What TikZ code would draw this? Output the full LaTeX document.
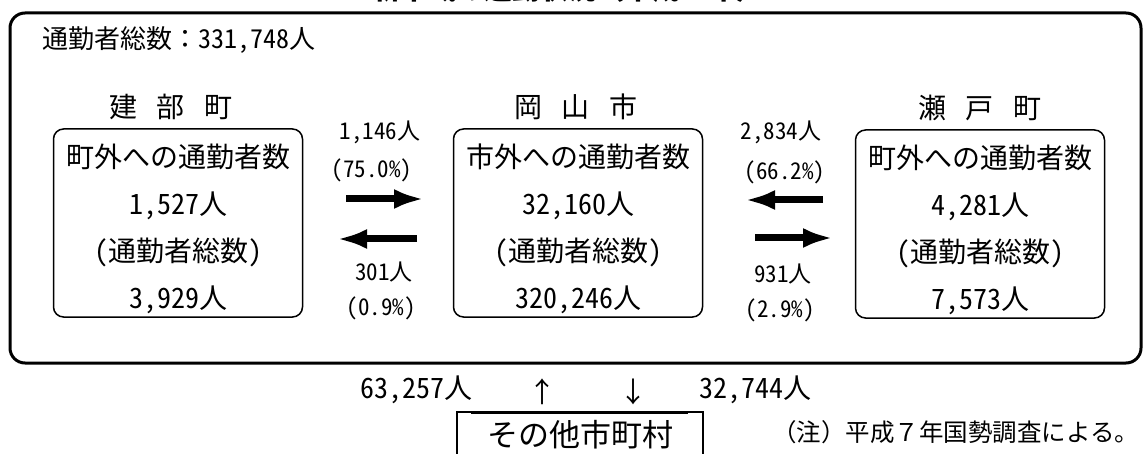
\documentclass[tikz,border=0pt]{standalone}
\usepackage{fontspec}
\setmainfont{Noto Sans CJK JP}[RawFeature=+hwid]
\newfontfamily\fw{Noto Sans CJK JP}
\usetikzlibrary{arrows.meta}

\begin{document}
\begin{tikzpicture}[x=1pt,y=-1pt,
	frame/.style={draw=black,line width=3pt,rounded corners=15pt},
	town/.style={rectangle,draw=black,line width=1.5pt,rounded corners=10pt,minimum width=249pt,minimum height=188pt,align=center,inner sep=0pt,font=\fontsize{28}{47}\selectfont},
	txt/.style={inner sep=0pt,font=\fontsize{28}{28}\selectfont},
	flowlabel/.style={inner sep=0pt,font=\fontsize{23}{23}\selectfont},
	flow/.style={line width=7pt,-{Latex[length=30pt,width=20pt]}}
]
	\useasboundingbox (0,0) rectangle (1145,454);

	\node[txt,anchor=base,font=\fw\bfseries\fontsize{28}{28}\selectfont] (title) at (568,0) {新市域の通勤状況（平成７年）};
	\draw[frame] (10,13) rectangle (1141,363);
	\node[txt,anchor=west,font=\fontsize{26}{26}\selectfont] (total) at (42,40) {{\fw 通勤者総数：}331,748人};

	\node[town] (tatebe) at (178,223) {\rule{0pt}{36pt}町外への通勤者数\\1,527人\\(通勤者総数)\\3,929人};
	\node[town] (okayama) at (578,223) {\rule{0pt}{36pt}市外への通勤者数\\32,160人\\(通勤者総数)\\320,246人};
	\node[town] (seto) at (980,224) {\rule{0pt}{36pt}町外への通勤者数\\4,281人\\(通勤者総数)\\7,573人};

	\node[txt] (tatebename) at (171,107) {建\hspace{.7em}部\hspace{.7em}町};
	\node[txt] (okayamaname) at (576,107) {岡\hspace{.7em}山\hspace{.7em}市};
	\node[txt] (setoname) at (980,108) {瀬\hspace{.7em}戸\hspace{.7em}町};

	% tatebe <-> okayama
	\node[flowlabel] (kt) at (380,132) {1,146人};
	\node[flowlabel] (ktp) at (372,170) {(75.0\%)};
	\node[flowlabel] (tk) at (384,272) {301人};
	\node[flowlabel] (tkp) at (381,308) {(0.9\%)};
	\coordinate (kt1) at (346,199);
	\coordinate (kt2) at (424,199);
	\coordinate (tk1) at (417,239);
	\coordinate (tk2) at (337,239);
	\draw[flow] (kt1) -- (kt2);
	\draw[flow] (tk1) -- (tk2);

	% seto <-> okayama
	\node[flowlabel] (st) at (781,132) {2,834人};
	\node[flowlabel] (stp) at (785,172) {(66.2\%)};
	\node[flowlabel] (ts) at (783,274) {931人};
	\node[flowlabel] (tsp) at (780,310) {(2.9\%)};
	\coordinate (st1) at (823,200);
	\coordinate (st2) at (745,200);
	\coordinate (ts1) at (755,238);
	\coordinate (ts2) at (833,238);
	\draw[flow] (st1) -- (st2);
	\draw[flow] (ts1) -- (ts2);

	% other municipalities
	\node[txt] (inflow) at (416,390) {63,257人};
	\node[txt] (up) at (542,392) {↑};
	\node[txt] (down) at (633,392) {↓};
	\node[txt] (outflow) at (755,390) {32,744人};
	\draw[line width=1.5pt] (457,412) rectangle (703,480);
	\draw[line width=3pt] (471,412) -- (688,412);
	\node[txt,font=\fw\fontsize{31}{31}\selectfont] (other) at (580,435) {その他市町村};
	\node[txt,anchor=west,font=\fw\fontsize{24.5}{24.5}\selectfont] (note) at (772,432) {（注）平成７年国勢調査による。};
\end{tikzpicture}
\end{document}
